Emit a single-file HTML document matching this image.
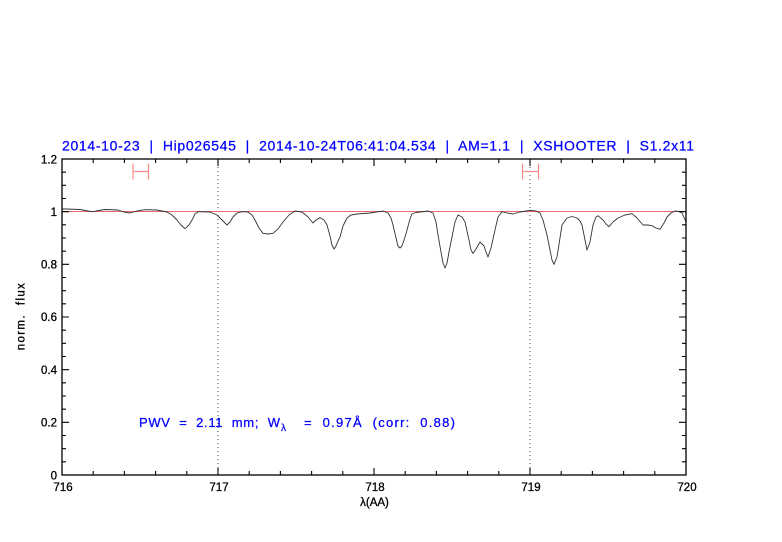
<!DOCTYPE html>
<html><head><meta charset="utf-8"><style>
html,body{margin:0;padding:0;background:#fff;}
svg{display:block;}
text{font-family:"Liberation Sans",sans-serif;white-space:pre;}
</style></head><body>
<svg width="782" height="542" viewBox="0 0 782 542" xmlns="http://www.w3.org/2000/svg" xml:space="preserve">
<rect width="782" height="542" fill="#fff"/>
<!-- title -->
<text x="62" y="150.5" font-size="14" fill="#0000ff" stroke="#0000ff" stroke-width="0.25" textLength="632" lengthAdjust="spacing">2014-10-23  |  Hip026545  |  2014-10-24T06:41:04.534  |  AM=1.1  |  XSHOOTER  |  S1.2x11</text>

<!-- dotted verticals -->
<line x1="218" y1="159" x2="218" y2="475" stroke="#444" stroke-width="1" stroke-dasharray="1,3"/>
<line x1="530" y1="159" x2="530" y2="475" stroke="#444" stroke-width="1" stroke-dasharray="1,3"/>

<!-- continuum line -->
<line x1="62" y1="211.5" x2="686" y2="211.5" stroke="#e86a6a" stroke-width="1"/>

<!-- red markers -->
<g stroke="#ff8a8a" stroke-width="1.2" fill="none">
<line x1="133" y1="163.5" x2="133" y2="179.5"/><line x1="148.5" y1="163.5" x2="148.5" y2="179.5"/><line x1="133" y1="171.5" x2="148.5" y2="171.5"/>
<line x1="522.5" y1="163.5" x2="522.5" y2="179.5"/><line x1="538.5" y1="163.5" x2="538.5" y2="179.5"/><line x1="522.5" y1="171.5" x2="538.5" y2="171.5"/>
</g>

<!-- spectrum -->
<polyline fill="none" stroke="#333" stroke-width="0.9" stroke-linejoin="round" points="
62,209 67,209 80,209.5 88,211 93,211.7 99,210.5 105,209.5 118,210 124,212 130,213 137,211 145,209.7 157,210 162,211 167,212 172,215 177,220 181,225 185,228.7 189,225 192,220 195,214 198,211.7 210,212 217,215 222,220 227,225 230,222 233,217 237,213 242,211.7 248,212 252,215 255,220 259,228 263,233.3 268,234 273,233.3 278,229 283,222 289,215 295,211 302,212 308,217 313,223 316,220 320,217.7 324,220 327,225 330,236 332,245 334,249 336,246 338,241 340,237 343,226 347,218 351,215 357,214 370,213 383,211 388,213 391,218 393,225 396,238 398,246 400,248 402,246 405,237 407,230 410,219 412,214 416,212.5 420,212 428,211 433,213 436,222 438,235 441,252 443,263 445,268 447,263 449,252 452,237 455,222 458,215 462,217 465,222 469,240 471,250 473,253.5 476,249 480,242 484,246 486,252 488,257 491,248 495,230 498,217 502,211.7 507,213 513,214 520,212 530,210.3 536,211 540,213 543,220 547,235 550,250 552,260 554,264.3 557,257 560,238 562,225 567,218 572,216.5 577,218 580,221 582,225 585,240 587,250 590,242 593,225 596,217 598,215.7 603,220 606,224 609,226.7 613,222 618,218 625,215 632,213.7 637,218 643,225 648,225 652,225.7 656,228 660,229.3 664,223 667,217 671,213 675,211 679,211.5 682,213 686,222"/>

<!-- frame -->
<rect x="62" y="159" width="624" height="316" fill="none" stroke="#000" stroke-width="1.3"/>

<!-- ticks -->
<g stroke="#000" stroke-width="1.1">
<line x1="218" y1="475" x2="218" y2="468"/><line x1="374" y1="475" x2="374" y2="468"/><line x1="530" y1="475" x2="530" y2="468"/>
<line x1="218" y1="159" x2="218" y2="166"/><line x1="374" y1="159" x2="374" y2="166"/><line x1="530" y1="159" x2="530" y2="166"/>
<path d="M93.2 475v-4M124.4 475v-4M155.6 475v-4M186.8 475v-4M249.2 475v-4M280.4 475v-4M311.6 475v-4M342.8 475v-4M405.2 475v-4M436.4 475v-4M467.6 475v-4M498.8 475v-4M561.2 475v-4M592.4 475v-4M623.6 475v-4M654.8 475v-4"/>
<path d="M93.2 159v4M124.4 159v4M155.6 159v4M186.8 159v4M249.2 159v4M280.4 159v4M311.6 159v4M342.8 159v4M405.2 159v4M436.4 159v4M467.6 159v4M498.8 159v4M561.2 159v4M592.4 159v4M623.6 159v4M654.8 159v4"/>
<path d="M62 422.3h7M62 369.7h7M62 317h7M62 264.3h7M62 211.7h7"/>
<path d="M686 422.3h-7M686 369.7h-7M686 317h-7M686 264.3h-7M686 211.7h-7"/>
<path d="M62 461.8h4M62 448.7h4M62 435.5h4M62 409.2h4M62 396h4M62 382.8h4M62 356.5h4M62 343.3h4M62 330.2h4M62 303.8h4M62 290.7h4M62 277.5h4M62 251.2h4M62 238h4M62 224.8h4M62 198.5h4M62 185.3h4M62 172.2h4"/>
<path d="M686 461.8h-4M686 448.7h-4M686 435.5h-4M686 409.2h-4M686 396h-4M686 382.8h-4M686 356.5h-4M686 343.3h-4M686 330.2h-4M686 303.8h-4M686 290.7h-4M686 277.5h-4M686 251.2h-4M686 238h-4M686 224.8h-4M686 198.5h-4M686 185.3h-4M686 172.2h-4"/>
</g>

<!-- y tick labels -->
<g font-size="11.5" fill="#000" stroke="#000" stroke-width="0.3" text-anchor="end">
<text x="57" y="479.5">0</text>
<text x="57" y="426.5">0.2</text>
<text x="57" y="374">0.4</text>
<text x="57" y="321.2">0.6</text>
<text x="57" y="268.5">0.8</text>
<text x="57" y="216">1</text>
<text x="57" y="163.3">1.2</text>
</g>
<!-- x tick labels -->
<g font-size="11.5" fill="#000" stroke="#000" stroke-width="0.3" text-anchor="middle">
<text x="63" y="491">716</text>
<text x="219" y="491">717</text>
<text x="375" y="491">718</text>
<text x="531" y="491">719</text>
<text x="687" y="491">720</text>
</g>

<!-- axis labels -->
<text x="374.5" y="506" font-size="11.5" fill="#000" stroke="#000" stroke-width="0.3" text-anchor="middle">λ(AA)</text>
<text transform="translate(24.5,316.7) rotate(-90)" font-size="11.5" fill="#000" stroke="#000" stroke-width="0.3" text-anchor="middle" textLength="67" lengthAdjust="spacing">norm.  flux</text>

<!-- PWV annotation -->
<g fill="#0000ff" stroke="#0000ff" stroke-width="0.25">
<text x="139" y="427" font-size="13" textLength="141" lengthAdjust="spacing">PWV  =  2.11  mm;  W</text>
<text x="281" y="431" font-size="10">λ</text>
<text x="304" y="427" font-size="13" textLength="151" lengthAdjust="spacing">=  0.97Å  (corr:  0.88)</text>
</g>
</svg>
</body></html>
